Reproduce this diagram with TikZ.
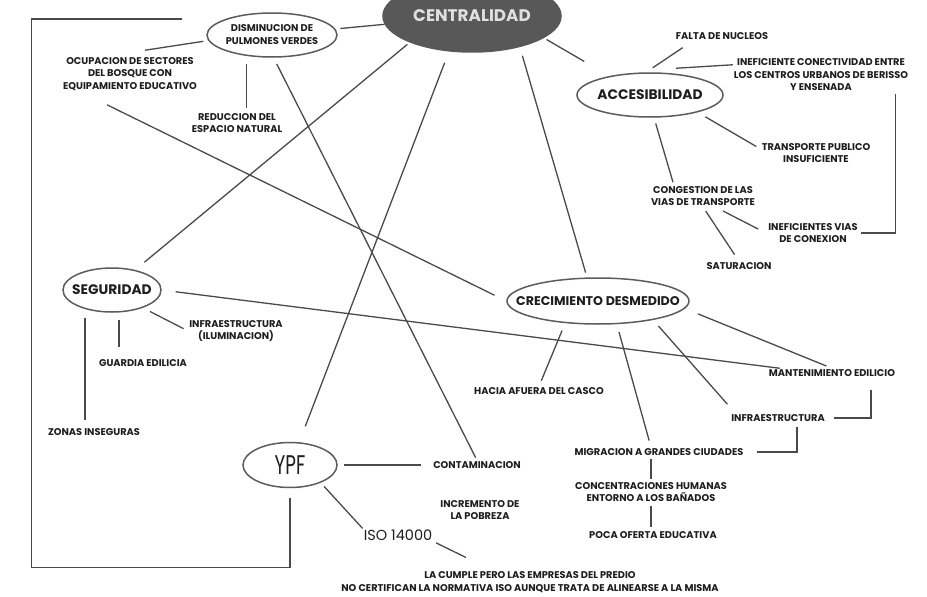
\documentclass[tikz,border=0pt]{standalone}
\usepackage{fontspec}
\setmainfont{Poppins}
\newfontfamily\tallfont{Poppins}[FakeStretch=0.68]
\usepackage{tikz}
\usetikzlibrary{shapes.geometric}

\definecolor{inkgray}{HTML}{4A4A4A}
\definecolor{ovalgray}{HTML}{5C5C5C}
\definecolor{textblack}{HTML}{1E1E1E}
\definecolor{cengray}{HTML}{585858}

\begin{document}
\begin{tikzpicture}[x=1pt, y=-1pt,
    link/.style={draw=inkgray, line width=1.3pt},
    oval/.style={ellipse, draw=ovalgray, line width=1.5pt, inner xsep=-80pt, inner ysep=-30pt, text=textblack, align=center},
    note/.style={align=center, inner sep=1pt, text=textblack, font=\fontsize{9.8}{12.5}\selectfont\bfseries}]
    \useasboundingbox (0,0) rectangle (927,597);
    \fill[white] (0,0) rectangle (927,597);

    \node[oval, fill=cengray, draw=cengray, text=white!88!black, font=\fontsize{16.8}{20}\selectfont\bfseries, minimum width=178pt, minimum height=72pt] (cen) at (472,16) {CENTRALIDAD};
    \node[oval, minimum width=130pt, minimum height=44pt, font=\fontsize{9.8}{13}\selectfont\bfseries] (dis) at (272,35) {DISMINUCION DE\\PULMONES VERDES};
    \node[oval, minimum width=146pt, minimum height=44pt, font=\fontsize{13.8}{15}\selectfont\bfseries] (acc) at (650,95) {ACCESIBILIDAD};
    \node[oval, minimum width=98pt, minimum height=44pt, font=\fontsize{13.8}{16}\selectfont\bfseries] (seg) at (112,290) {SEGURIDAD};
    \node[oval, minimum width=182pt, minimum height=46pt, font=\fontsize{12.6}{15}\selectfont\bfseries] (cre) at (598,301) {CRECIMIENTO DESMEDIDO};
    \node[oval, minimum width=94pt, minimum height=45pt, font=\fontsize{27}{29}\tallfont] (ypf) at (290,465) {YPF};

    \node[note] (ocup) at (130,74) {OCUPACION DE SECTORES\\DEL BOSQUE CON\\EQUIPAMIENTO EDUCATIVO};
    \node[note] (reduc) at (237,123) {REDUCCION DEL\\ESPACIO NATURAL};
    \node[note] (falta) at (722,36) {FALTA DE NUCLEOS};
    \node[note] (conect) at (821,75) {INEFICIENTE CONECTIVIDAD ENTRE\\LOS CENTROS URBANOS DE BERISSO\\Y ENSENADA};
    \node[note] (transp) at (816,153) {TRANSPORTE PUBLICO\\INSUFICIENTE};
    \node[note] (conges) at (703,196) {CONGESTION DE LAS\\VIAS DE TRANSPORTE};
    \node[note] (inefvias) at (813,233) {INEFICIENTES VIAS\\DE CONEXION};
    \node[note] (satur) at (739,266) {SATURACION};
    \node[note] (infrailum) at (236,331) {INFRAESTRUCTURA\\(ILUMINACION)};
    \node[note] (guardia) at (143,363) {GUARDIA EDILICIA};
    \node[note] (zonas) at (94,432) {ZONAS INSEGURAS};
    \node[note] (hacia) at (539,391) {HACIA AFUERA DEL CASCO};
    \node[note] (mant) at (832,373) {MANTENIMIENTO EDILICIO};
    \node[note] (infra) at (778,418) {INFRAESTRUCTURA};
    \node[note] (migra) at (659,452) {MIGRACION A GRANDES CIUDADES};
    \node[note] (concen) at (651,492) {CONCENTRACIONES HUMANAS\\ENTORNO A LOS BAÑADOS};
    \node[note] (poca) at (653,535) {POCA OFERTA EDUCATIVA};
    \node[note] (contam) at (477,465) {CONTAMINACION};
    \node[note] (incre) at (480,510) {INCREMENTO DE\\LA POBREZA};
    \node[note, font=\fontsize{14.5}{16}\selectfont] (iso) at (398,535) {ISO 14000};
    \node[note] (cumple) at (530,582) {LA CUMPLE PERO LAS EMPRESAS DEL PREDIO\\NO CERTIFICAN LA NORMATIVA ISO AUNQUE TRATA DE ALINEARSE A LA MISMA};

    \draw[link, shorten <=5pt] (dis) -- (cen);
    \draw[link, shorten <=3pt, shorten >=12pt] (cen.203) -- (seg.41);
    \draw[link, shorten <=12pt, shorten >=17pt] (cen.237) -- (ypf.68);
    \draw[link, shorten <=9pt, shorten >=5pt] (cen.327) -- (cre.115);
    \draw[link, shorten <=3pt, shorten >=29pt] (cen.343) -- (acc.155);

    \draw[link, shorten <=5pt] (dis.185) -- ([shift={(15pt,6pt)}]ocup.north);
    \draw[link, shorten <=8pt, shorten >=4pt] (dis.219) -- (dis.219 |- reduc.north);
    \draw[link, shorten >=10pt] ([shift={(-24pt,16pt)}]dis.west) -- ++(-151,0) |- ([yshift=-79pt]ypf.south) -- (ypf.south);
    \draw[link, shorten <=7pt, shorten >=3pt] (dis.274) -- (contam.north);
    \draw[link, shorten >=13pt] ([shift={(-23pt,-13pt)}]ocup.south) -- (cre.west);

    \draw[link, shorten <=14pt] (seg.east) -- ([xshift=12pt]mant.north west);
    \draw[link, shorten <=8pt, shorten >=5pt] (seg.-30) -- (infrailum.west);
    \draw[link, shorten <=7pt, shorten >=11pt] ([xshift=7pt]seg.south) -- ([xshift=7pt]seg.south |- guardia.north);
    \draw[link, shorten <=5pt, shorten >=7pt] ([xshift=-27pt]seg.south) -- ([xshift=-27pt]seg.south |- zonas.north);

    \draw[link, shorten <=8pt] (acc.100) -- ([shift={(8pt,-7pt)}]falta.south west);
    \draw[link] ([shift={(26pt,4pt)}]acc.north) -- ([yshift=-7pt]conect.north west);
    \draw[link, shorten <=9pt, shorten >=5pt] (acc.-20) -- ([yshift=-7pt]transp.north west);
    \draw[link, shorten <=6pt, shorten >=3pt] (acc.-80) -- ([xshift=24pt]conges.north west);
    \draw[link] ([shift={(20pt,-4pt)}]conges.south) -- ([shift={(-9pt,-7pt)}]inefvias.north west);
    \draw[link, shorten <=5pt, shorten >=8pt] (conges.south) -- (satur.north);
    \draw[link, shorten >=2pt] ([shift={(-14pt,-2pt)}]conect.south east) |- (inefvias.east);

    \draw[link, shorten <=8pt, shorten >=6pt] (cre.214) -- (hacia.north);
    \draw[link, shorten <=8pt, shorten >=7pt] (cre.309) -- ([xshift=-8pt]migra.north);
    \draw[link, shorten <=8pt, shorten >=4pt] (cre.341) -- ([yshift=6pt]infra.north west);
    \draw[link, shorten <=14pt, shorten >=6pt] (cre.-5) -- (mant.north);
    \draw[link, shorten <=12pt, shorten >=8pt] ([xshift=39pt]mant.south) |- (infra.east);
    \draw[link, shorten <=4pt, shorten >=12pt] ([xshift=19pt]infra.south) |- (migra.east);
    \draw[link, shorten <=2pt, shorten >=2pt] (concen.north |- migra.south) -- (concen.north);
    \draw[link, shorten <=3pt, shorten >=3pt] (concen.south) -- (concen.south |- poca.north);

    \draw[link, shorten <=6pt, shorten >=11pt] (ypf.east) -- (contam.west);
    \draw[link, shorten <=5pt] (ypf.-30) -- (iso.north west);
    \draw[link, shorten <=3pt] (iso.south east) -- ([shift={(-64pt,13pt)}]cumple.north);
\end{tikzpicture}
\end{document}
